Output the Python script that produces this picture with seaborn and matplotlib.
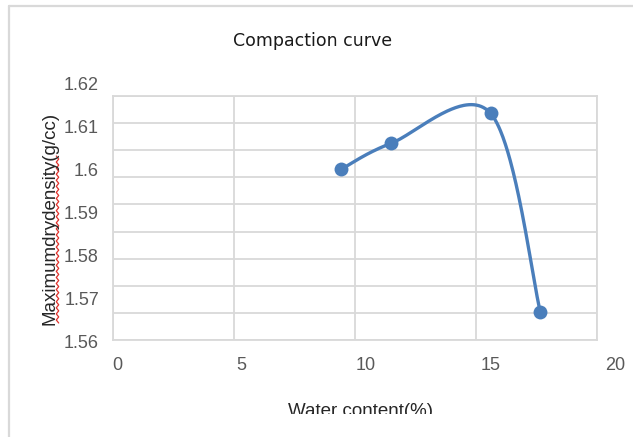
import numpy as np
import pandas as pd
import matplotlib
matplotlib.use("Agg")
import matplotlib.pyplot as plt
import seaborn as sns
from matplotlib.lines import Line2D
from matplotlib.patches import Rectangle

# ---- data ----
water_content = [9, 11, 15, 17]
max_dry_density = [1.600, 1.606, 1.613, 1.567]
x_ticks = [0, 5, 10, 15, 20]
y_ticks = [1.56, 1.57, 1.58, 1.59, 1.60, 1.61, 1.62]
y_tick_labels = ["1.56", "1.57", "1.58", "1.59", "1.6", "1.61", "1.62"]
title = "Compaction curve"
x_label = "Water content(%)"
y_label = "Maximumdrydensity(g/cc)"

sns.set_style("white")
plt.rcParams["font.family"] = ["Liberation Sans", "DejaVu Sans"]

W, H = 633, 437
fig = plt.figure(figsize=(W / 100, H / 100), dpi=100)
fig.patch.set_facecolor("white")


def fx(px):
    return px / W


def fy(py):
    return 1 - py / H


def smooth_curve(xs, ys, n=80):
    """Excel-style smoothed line (Catmull-Rom Bezier) through the data points."""
    P = np.column_stack([xs, ys]).astype(float)
    out = []
    for i in range(len(P) - 1):
        p0 = P[i - 1] if i > 0 else P[i]
        p1, p2 = P[i], P[i + 1]
        p3 = P[i + 2] if i + 2 < len(P) else P[i + 1]
        c1 = p1 + (p2 - p0) / 6
        c2 = p2 - (p3 - p1) / 6
        t = np.linspace(0, 1, n)[:, None]
        seg = (1 - t) ** 3 * p1 + 3 * (1 - t) ** 2 * t * c1 + 3 * (1 - t) * t ** 2 * c2 + t ** 3 * p2
        out.append(seg if i == 0 else seg[1:])
    return np.vstack(out)


grid_col = "#d9d9d9"
line_col = "#4a7ebb"
text_col = "#595959"

# ---- background plot area with gridlines ----
ax_bg = fig.add_axes([fx(113), fy(340), fx(597) - fx(113), fy(96) - fy(340)])
ax_bg.set_xlim(0, 4)
ax_bg.set_ylim(0, 9)
ax_bg.set_xticks(range(5))
ax_bg.set_yticks(range(10))
ax_bg.grid(True, color=grid_col, linewidth=1.3)
ax_bg.tick_params(length=0, labelbottom=False, labelleft=False)
for s in ax_bg.spines.values():
    s.set_color(grid_col)
    s.set_linewidth(1.3)
ax_bg.set_zorder(0)

# ---- data axes ----
ax = fig.add_axes([fx(117), fy(342), fx(615) - fx(117), fy(83) - fy(342)])
ax.set_zorder(1)
ax.patch.set_alpha(0)
curve = smooth_curve(water_content, max_dry_density)
curve_df = pd.DataFrame({"x": curve[:, 0], "y": curve[:, 1]})
pts_df = pd.DataFrame({"x": water_content, "y": max_dry_density})
sns.lineplot(data=curve_df, x="x", y="y", sort=False, estimator=None,
             color=line_col, linewidth=2.4, ax=ax)
sns.scatterplot(data=pts_df, x="x", y="y", s=100, color=line_col,
                edgecolor=line_col, linewidth=0, ax=ax, zorder=3)
ax.set_xlim(0, 20)
ax.set_ylim(1.56, 1.62)
ax.set_xticks(x_ticks)
ax.set_xticklabels([str(v) for v in x_ticks])
ax.set_yticks(y_ticks)
ax.set_yticklabels(y_tick_labels)
ax.tick_params(axis="x", length=0, pad=11, labelsize=13, labelcolor=text_col)
ax.tick_params(axis="y", length=0, pad=13, labelsize=13, labelcolor=text_col)
ax.grid(False)
for s in ax.spines.values():
    s.set_visible(False)
ax.set_xlabel("")
ax.set_ylabel("")

# ---- texts ----
fig.text(fx(313), fy(41), title, ha="center", va="center", fontsize=12.5,
         color="#1a1a1a", family=["DejaVu Sans"])
fig.text(fx(50), fy(218), y_label, rotation=90, ha="center", va="center",
         fontsize=13.5, color="#262626")
fig.text(fx(361), fy(411), x_label, ha="center", va="center", fontsize=13.5,
         color="#262626")
# cropped lower part of the x-axis title (as in the screenshot)
fig.patches.append(Rectangle((fx(12), 0), 1 - fx(12), fy(414), transform=fig.transFigure,
                             facecolor="white", edgecolor="none", zorder=10))

# spell-check squiggle under "Maximumdrydensity"
sq_y = np.linspace(156, 323, 56)
sq_x = 57.5 + np.where(np.arange(sq_y.size) % 2 == 0, -1.2, 1.2)
fig.add_artist(Line2D(fx(sq_x), fy(sq_y), color="#e0302a", linewidth=0.9,
                      transform=fig.transFigure))

# ---- outer chart border (top and left, as cropped) ----
fig.add_artist(Line2D([fx(9), fx(9)], [0, fy(6)], color=grid_col, linewidth=1.6,
                      transform=fig.transFigure))
fig.add_artist(Line2D([fx(9), 1], [fy(6), fy(6)], color=grid_col, linewidth=1.6,
                      transform=fig.transFigure))

fig.savefig("out.png", dpi=100, facecolor="white")
